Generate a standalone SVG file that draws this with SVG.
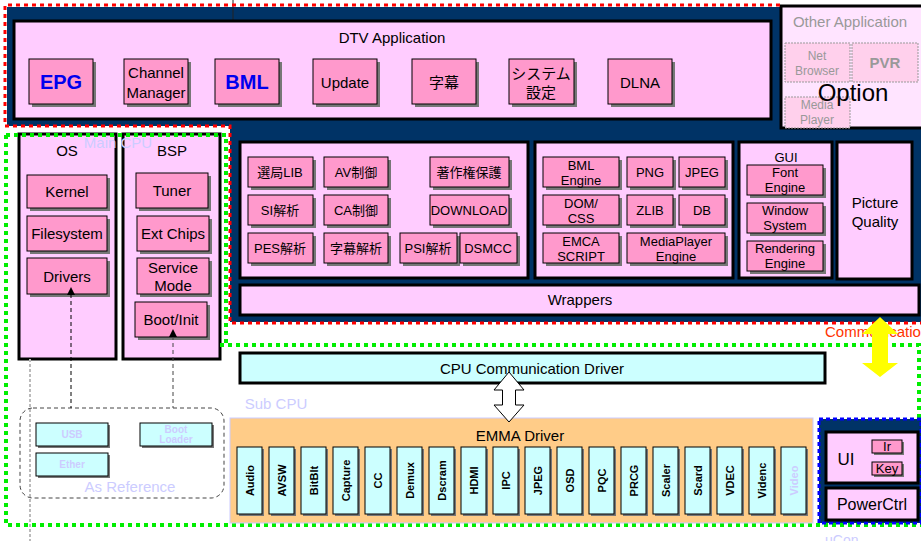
<svg xmlns="http://www.w3.org/2000/svg" width="921" height="541" viewBox="0 0 921 541">
<style>
text{font-family:"Liberation Sans","Noto Sans CJK JP",sans-serif;fill:#000;}
.c{text-anchor:middle;}
.t15{font-size:15px;}
.t13{font-size:13px;}
.lp{fill:#FFCCFF;stroke:#000;stroke-width:3;}
.dp{fill:#FF99CC;stroke:#000;stroke-width:1;}
.cy{fill:#CCFFFF;stroke:#000;stroke-width:1;}
.sh{fill:#777;}
.grn{fill:none;stroke:#00EE00;stroke-width:4;stroke-dasharray:4 4;}
.red{fill:none;stroke:#FF0000;stroke-width:3;stroke-dasharray:4 4;}
.lav{fill:#CCCCFF;}
.em{font-size:11px;font-weight:bold;text-anchor:middle;}
</style>

<!-- navy background -->
<path d="M7,7 H921 V322 H230 V126 H7 Z" fill="#003366"/>
<line x1="233" y1="0" x2="233" y2="21" stroke="#222" stroke-width="1"/>

<!-- DTV Application -->
<g id="dtv-app">
  <rect x="14" y="21" width="757" height="98" class="lp"/>
  <text x="392" y="43" class="c t15">DTV Application</text>
  <g id="epg"><rect x="32" y="62" width="64" height="45" class="sh"/><rect x="29" y="59" width="64" height="45" class="dp"/><text x="61" y="89" class="c" style="font-size:20px;font-weight:bold;fill:#0000EE">EPG</text></g>
  <g id="chmgr"><rect x="127" y="62" width="64" height="45" class="sh"/><rect x="124" y="59" width="64" height="45" class="dp"/><text x="156" y="78" class="c t15">Channel</text><text x="156" y="98" class="c t15">Manager</text></g>
  <g id="bml"><rect x="218" y="62" width="64" height="45" class="sh"/><rect x="215" y="59" width="64" height="45" class="dp"/><text x="247" y="89" class="c" style="font-size:20px;font-weight:bold;fill:#0000EE">BML</text></g>
  <g id="update"><rect x="316" y="62" width="64" height="45" class="sh"/><rect x="313" y="59" width="64" height="45" class="dp"/><text x="345" y="88" class="c t15">Update</text></g>
  <g id="jimaku"><rect x="415" y="62" width="64" height="45" class="sh"/><rect x="412" y="59" width="64" height="45" class="dp"/><text x="444" y="88" class="c t15">字幕</text></g>
  <g id="system"><rect x="512" y="62" width="65" height="45" class="sh"/><rect x="509" y="59" width="65" height="45" class="dp"/><text x="541" y="79" class="c t15">システム</text><text x="541" y="98" class="c t15">設定</text></g>
  <g id="dlna"><rect x="611" y="62" width="64" height="45" class="sh"/><rect x="608" y="59" width="64" height="45" class="dp"/><text x="640" y="88" class="c t15">DLNA</text></g>
</g>

<!-- Option -->
<g id="option">
  <rect x="781" y="6" width="142" height="122" fill="#FFE4FF" stroke="#000" stroke-width="3"/>
  <text x="850" y="27" class="c t15" style="fill:#999">Other Application</text>
  <g id="netbrowser"><rect x="785" y="43" width="65" height="39" fill="#FFD0EC" stroke="#999" stroke-width="1" stroke-dasharray="2 1"/><text x="817" y="60" class="c" style="font-size:12px;fill:#999">Net</text><text x="817" y="75" class="c" style="font-size:12px;fill:#999">Browser</text></g>
  <g id="pvr"><rect x="852" y="43" width="66" height="39" fill="#FFD0EC" stroke="#999" stroke-width="1" stroke-dasharray="2 1"/><text x="885" y="68" class="c t15" style="fill:#999;font-weight:bold">PVR</text></g>
  <g id="mediaplayer"><rect x="785" y="97" width="65" height="31" fill="#FFD0EC" stroke="#999" stroke-width="1" stroke-dasharray="2 1"/><text x="817" y="109" class="c" style="font-size:12px;fill:#999">Media</text><text x="817" y="124" class="c" style="font-size:12px;fill:#999">Player</text></g>
  <text x="853" y="101" class="c" style="font-size:24px">Option</text>
</g>

<!-- Middleware box A -->
<g id="lib-group">
  <rect x="240" y="142" width="288" height="136" class="lp"/>
  <g><rect x="251" y="160" width="65" height="30" class="sh"/><rect x="248" y="157" width="65" height="30" class="dp"/><text x="280" y="177" class="c t13">選局LIB</text></g>
  <g><rect x="327" y="160" width="64" height="30" class="sh"/><rect x="324" y="157" width="64" height="30" class="dp"/><text x="356" y="177" class="c t13">AV制御</text></g>
  <g><rect x="433" y="160" width="79" height="30" class="sh"/><rect x="430" y="157" width="79" height="30" class="dp"/><text x="469" y="177" class="c t13">著作権保護</text></g>
  <g><rect x="251" y="198" width="65" height="30" class="sh"/><rect x="248" y="195" width="65" height="30" class="dp"/><text x="280" y="215" class="c t13">SI解析</text></g>
  <g><rect x="327" y="198" width="64" height="30" class="sh"/><rect x="324" y="195" width="64" height="30" class="dp"/><text x="356" y="215" class="c t13">CA制御</text></g>
  <g><rect x="433" y="198" width="79" height="30" class="sh"/><rect x="430" y="195" width="79" height="30" class="dp"/><text x="469" y="215" class="c t13">DOWNLOAD</text></g>
  <g><rect x="251" y="236" width="65" height="30" class="sh"/><rect x="248" y="233" width="65" height="30" class="dp"/><text x="280" y="253" class="c t13">PES解析</text></g>
  <g><rect x="327" y="236" width="64" height="30" class="sh"/><rect x="324" y="233" width="64" height="30" class="dp"/><text x="356" y="253" class="c t13">字幕解析</text></g>
  <g><rect x="403" y="236" width="57" height="30" class="sh"/><rect x="400" y="233" width="57" height="30" class="dp"/><text x="428" y="253" class="c t13">PSI解析</text></g>
  <g><rect x="463" y="236" width="57" height="30" class="sh"/><rect x="460" y="233" width="57" height="30" class="dp"/><text x="488" y="253" class="c t13">DSMCC</text></g>
</g>

<!-- Middleware box B -->
<g id="engine-group">
  <rect x="535" y="142" width="198" height="136" class="lp"/>
  <g><rect x="546" y="160" width="76" height="30" class="sh"/><rect x="543" y="157" width="76" height="30" class="dp"/><text x="581" y="170" class="c t13">BML</text><text x="581" y="185" class="c t13">Engine</text></g>
  <g><rect x="630" y="160" width="46" height="30" class="sh"/><rect x="627" y="157" width="46" height="30" class="dp"/><text x="650" y="177" class="c t13">PNG</text></g>
  <g><rect x="682" y="160" width="46" height="30" class="sh"/><rect x="679" y="157" width="46" height="30" class="dp"/><text x="702" y="177" class="c t13">JPEG</text></g>
  <g><rect x="546" y="198" width="76" height="30" class="sh"/><rect x="543" y="195" width="76" height="30" class="dp"/><text x="581" y="208" class="c t13">DOM/</text><text x="581" y="223" class="c t13">CSS</text></g>
  <g><rect x="630" y="198" width="46" height="30" class="sh"/><rect x="627" y="195" width="46" height="30" class="dp"/><text x="650" y="215" class="c t13">ZLIB</text></g>
  <g><rect x="682" y="198" width="46" height="30" class="sh"/><rect x="679" y="195" width="46" height="30" class="dp"/><text x="702" y="215" class="c t13">DB</text></g>
  <g><rect x="546" y="236" width="76" height="30" class="sh"/><rect x="543" y="233" width="76" height="30" class="dp"/><text x="581" y="246" class="c t13">EMCA</text><text x="581" y="261" class="c t13">SCRIPT</text></g>
  <g><rect x="630" y="236" width="98" height="30" class="sh"/><rect x="627" y="233" width="98" height="30" class="dp"/><text x="676" y="246" class="c t13">MediaPlayer</text><text x="676" y="261" class="c t13">Engine</text></g>
</g>

<!-- GUI -->
<g id="gui">
  <rect x="739" y="142" width="93" height="136" class="lp"/>
  <text x="786" y="162" class="c t13">GUI</text>
  <g><rect x="750" y="168" width="76" height="30" class="sh"/><rect x="747" y="165" width="76" height="30" class="dp"/><text x="785" y="177" class="c t13">Font</text><text x="785" y="192" class="c t13">Engine</text></g>
  <g><rect x="750" y="206" width="76" height="30" class="sh"/><rect x="747" y="203" width="76" height="30" class="dp"/><text x="785" y="215" class="c t13">Window</text><text x="785" y="230" class="c t13">System</text></g>
  <g><rect x="750" y="244" width="76" height="30" class="sh"/><rect x="747" y="241" width="76" height="30" class="dp"/><text x="785" y="253" class="c t13">Rendering</text><text x="785" y="268" class="c t13">Engine</text></g>
</g>

<g id="picture-quality">
  <rect x="837" y="142" width="75" height="137" class="lp"/>
  <text x="875" y="208" class="c t15">Picture</text>
  <text x="875" y="227" class="c t15">Quality</text>
</g>

<g id="wrappers">
  <rect x="240" y="285" width="679" height="30" class="lp"/>
  <text x="580" y="305" class="c t15">Wrappers</text>
</g>

<!-- red dotted boundary -->
<path d="M780,5 H5 V126 H230 V323 H921" class="red"/>

<!-- OS / BSP -->
<g id="os">
  <rect x="19" y="134" width="97" height="225" class="lp"/>
  <text x="67" y="156" class="c t15">OS</text>
  <g id="kernel"><rect x="30" y="178" width="80" height="33" class="sh"/><rect x="27" y="175" width="80" height="33" class="dp"/><text x="67" y="197" class="c t15">Kernel</text></g>
  <g id="filesystem"><rect x="30" y="219" width="80" height="35" class="sh"/><rect x="27" y="216" width="80" height="35" class="dp"/><text x="67" y="239" class="c t15">Filesystem</text></g>
  <g id="drivers"><rect x="30" y="261" width="80" height="36" class="sh"/><rect x="27" y="258" width="80" height="36" class="dp"/><text x="67" y="282" class="c t15">Drivers</text></g>
</g>
<g id="bsp">
  <rect x="123" y="134" width="97" height="225" class="lp"/>
  <text x="172" y="156" class="c t15">BSP</text>
  <g id="tuner"><rect x="139" y="176" width="72" height="35" class="sh"/><rect x="136" y="173" width="72" height="35" class="dp"/><text x="172" y="196" class="c t15">Tuner</text></g>
  <g id="extchips"><rect x="140" y="219" width="72" height="35" class="sh"/><rect x="137" y="216" width="72" height="35" class="dp"/><text x="173" y="239" class="c t15">Ext Chips</text></g>
  <g id="servicemode"><rect x="140" y="261" width="72" height="36" class="sh"/><rect x="137" y="258" width="72" height="36" class="dp"/><text x="173" y="273" class="c t15">Service</text><text x="173" y="291" class="c t15">Mode</text></g>
  <g id="bootinit"><rect x="138" y="305" width="72" height="35" class="sh"/><rect x="135" y="302" width="72" height="35" class="dp"/><text x="171" y="325" class="c t15">Boot/Init</text></g>
</g>
<text x="118" y="148" class="c t15 lav">Main CPU</text>

<!-- faint grey dotted line -->
<line x1="30" y1="359" x2="30" y2="541" stroke="#BBB" stroke-width="2" stroke-dasharray="3 2"/>

<!-- As Reference -->
<g id="as-reference">
  <rect x="20" y="408" width="204" height="90" rx="13" fill="none" stroke="#444" stroke-width="1" stroke-dasharray="4 3"/>
  <g id="usb"><rect x="38" y="425" width="72" height="23" class="sh"/><rect x="36" y="423" width="72" height="23" class="cy"/><text x="72" y="438" class="c lav" style="font-size:10px;font-weight:bold">USB</text></g>
  <g id="ether"><rect x="38" y="455" width="72" height="23" class="sh"/><rect x="36" y="453" width="72" height="23" class="cy"/><text x="72" y="468" class="c lav" style="font-size:10px;font-weight:bold">Ether</text></g>
  <g id="bootloader"><rect x="142" y="425" width="72" height="23" class="sh"/><rect x="140" y="423" width="72" height="23" class="cy"/><text x="176" y="433" class="c lav" style="font-size:10px;font-weight:bold">Boot</text><text x="176" y="443" class="c lav" style="font-size:10px;font-weight:bold">Loader</text></g>
  <text x="130" y="492" class="c t15 lav">As Reference</text>
</g>

<!-- green dotted boundaries -->
<path d="M6,135 H226 V345" class="grn"/>
<path d="M6,135 V525 H921" class="grn"/>
<path d="M220,345 H919 V418" class="grn"/>

<g id="cpu-comm">
  <rect x="240" y="353" width="585" height="30" fill="#CCFFFF" stroke="#000" stroke-width="3"/>
  <text x="532" y="374" class="c t15">CPU Communication Driver</text>
</g>
<text x="276" y="409" class="c t15 lav">Sub CPU</text>

<!-- EMMA Driver -->
<g id="emma">
  <rect x="230" y="418" width="583" height="105" fill="#FFCC88" stroke="#CCCCFF" stroke-width="1"/>
  <text x="520" y="441" class="c t15">EMMA Driver</text>
  <g id="emma-items">
    <g><rect x="239" y="449" width="25" height="67" class="sh"/><rect x="237" y="447" width="25" height="67" class="cy"/><text transform="translate(253.5,480.5) rotate(-90)" class="em">Audio</text></g>
    <g><rect x="271" y="449" width="25" height="67" class="sh"/><rect x="269" y="447" width="25" height="67" class="cy"/><text transform="translate(285.5,480.5) rotate(-90)" class="em">AVSW</text></g>
    <g><rect x="303" y="449" width="25" height="67" class="sh"/><rect x="301" y="447" width="25" height="67" class="cy"/><text transform="translate(317.5,480.5) rotate(-90)" class="em">BitBlt</text></g>
    <g><rect x="335" y="449" width="25" height="67" class="sh"/><rect x="333" y="447" width="25" height="67" class="cy"/><text transform="translate(349.5,480.5) rotate(-90)" class="em">Capture</text></g>
    <g><rect x="367" y="449" width="25" height="67" class="sh"/><rect x="365" y="447" width="25" height="67" class="cy"/><text transform="translate(381.5,480.5) rotate(-90)" class="em">CC</text></g>
    <g><rect x="399" y="449" width="25" height="67" class="sh"/><rect x="397" y="447" width="25" height="67" class="cy"/><text transform="translate(413.5,480.5) rotate(-90)" class="em">Demux</text></g>
    <g><rect x="431" y="449" width="25" height="67" class="sh"/><rect x="429" y="447" width="25" height="67" class="cy"/><text transform="translate(445.5,480.5) rotate(-90)" class="em">Dscram</text></g>
    <g><rect x="463" y="449" width="25" height="67" class="sh"/><rect x="461" y="447" width="25" height="67" class="cy"/><text transform="translate(477.5,480.5) rotate(-90)" class="em">HDMI</text></g>
    <g><rect x="495" y="449" width="25" height="67" class="sh"/><rect x="493" y="447" width="25" height="67" class="cy"/><text transform="translate(509.5,480.5) rotate(-90)" class="em">IPC</text></g>
    <g><rect x="527" y="449" width="25" height="67" class="sh"/><rect x="525" y="447" width="25" height="67" class="cy"/><text transform="translate(541.5,480.5) rotate(-90)" class="em">JPEG</text></g>
    <g><rect x="559" y="449" width="25" height="67" class="sh"/><rect x="557" y="447" width="25" height="67" class="cy"/><text transform="translate(573.5,480.5) rotate(-90)" class="em">OSD</text></g>
    <g><rect x="591" y="449" width="25" height="67" class="sh"/><rect x="589" y="447" width="25" height="67" class="cy"/><text transform="translate(605.5,480.5) rotate(-90)" class="em">PQC</text></g>
    <g><rect x="623" y="449" width="25" height="67" class="sh"/><rect x="621" y="447" width="25" height="67" class="cy"/><text transform="translate(637.5,480.5) rotate(-90)" class="em">PRCG</text></g>
    <g><rect x="655" y="449" width="25" height="67" class="sh"/><rect x="653" y="447" width="25" height="67" class="cy"/><text transform="translate(669.5,480.5) rotate(-90)" class="em">Scaler</text></g>
    <g><rect x="687" y="449" width="25" height="67" class="sh"/><rect x="685" y="447" width="25" height="67" class="cy"/><text transform="translate(701.5,480.5) rotate(-90)" class="em">Scard</text></g>
    <g><rect x="719" y="449" width="25" height="67" class="sh"/><rect x="717" y="447" width="25" height="67" class="cy"/><text transform="translate(733.5,480.5) rotate(-90)" class="em">VDEC</text></g>
    <g><rect x="751" y="449" width="25" height="67" class="sh"/><rect x="749" y="447" width="25" height="67" class="cy"/><text transform="translate(765.5,480.5) rotate(-90)" class="em">Videnc</text></g>
    <g><rect x="783" y="449" width="25" height="67" class="sh"/><rect x="781" y="447" width="25" height="67" class="cy"/><text transform="translate(797.5,480.5) rotate(-90)" class="em lav">Video</text></g>
  </g>
</g>

<!-- uCon -->
<g id="ucon">
  <rect x="819" y="419" width="102" height="104" fill="#003366" stroke="#0000FF" stroke-width="3" stroke-dasharray="4 3"/>
  <g id="ui">
    <rect x="826" y="432" width="92" height="51" fill="#FFCCFF" stroke="#000" stroke-width="3"/>
    <text x="846" y="465" class="c" style="font-size:17px">UI</text>
    <g id="ir"><rect x="874" y="442" width="30" height="13" class="sh"/><rect x="872" y="440" width="30" height="13" class="dp"/><text x="887" y="451" class="c t13">Ir</text></g>
    <g id="key"><rect x="874" y="464" width="30" height="13" class="sh"/><rect x="872" y="462" width="30" height="13" class="dp"/><text x="887" y="473" class="c t13">Key</text></g>
  </g>
  <g id="powerctrl">
    <rect x="826" y="488" width="92" height="32" fill="#FFCCFF" stroke="#000" stroke-width="3"/>
    <text x="872" y="510" class="c" style="font-size:16px">PowerCtrl</text>
  </g>
</g>
<text x="825" y="545" class="lav" style="font-size:14px">uCon</text>

<text x="825" y="337" style="font-size:15px;fill:#FF3300">Communication</text>

<!-- connectors -->
<g id="connectors">
  <line x1="71" y1="294" x2="71" y2="408" stroke="#000" stroke-width="1" stroke-dasharray="4 3"/>
  <path d="M71,287 L75,295 L67,295 Z" fill="#000"/>
  <line x1="173" y1="336" x2="173" y2="408" stroke="#444" stroke-width="1" stroke-dasharray="4 3"/>
  <path d="M173,329 L177,337 L169,337 Z" fill="#000"/>
  <path d="M509,372 L524,390 L515.5,390 L515.5,405 L524,405 L509,422 L494,405 L502.5,405 L502.5,390 L494,390 Z" fill="#FFF" stroke="#000" stroke-width="1"/>
  <path d="M880,317 L898,334 L888,334 L888,363 L898,363 L880,377 L862,363 L872,363 L872,334 L862,334 Z" fill="#FFFF00"/>
</g>
</svg>
